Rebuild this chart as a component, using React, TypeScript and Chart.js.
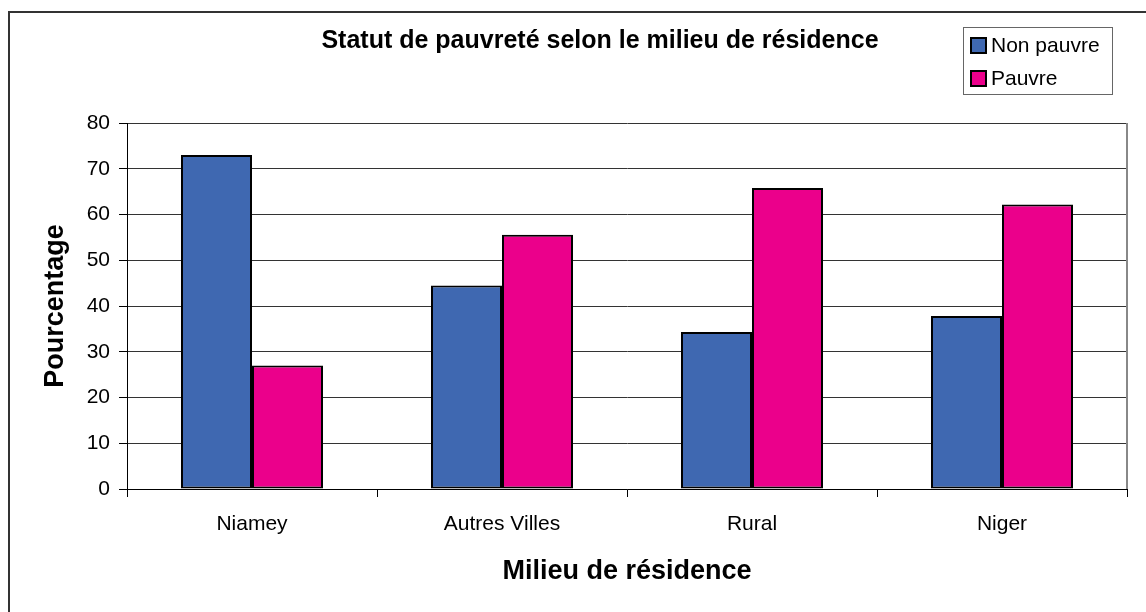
import React, { useEffect, useRef } from 'react';
import { Chart, registerables } from 'chart.js';

Chart.register(...registerables);

const categories = ['Niamey', 'Autres Villes', 'Rural', 'Niger'];
const seriesNames = ['Non pauvre', 'Pauvre'];
const nonPauvre = [73, 44.5, 34.3, 37.8];
const pauvre = [27, 55.6, 65.8, 62.2];
const seriesColors = ['#3F68B1', '#EB008B'];
const yMin = 0;
const yMax = 80;
const yStep = 10;
const chartTitle = 'Statut de pauvreté selon le milieu de résidence';
const xTitle = 'Milieu de résidence';
const yTitle = 'Pourcentage';

const FONT = '"Liberation Sans", Arial, Helvetica, sans-serif';

const decorPlugin = {
  id: 'decor',
  afterDraw(chart: any) {
    const ctx = chart.ctx;
    const area = chart.chartArea;
    ctx.save();
    // outer frame (left + top visible)
    ctx.strokeStyle = '#333333';
    ctx.lineWidth = 2;
    ctx.beginPath();
    ctx.moveTo(9, 612);
    ctx.lineTo(9, 12);
    ctx.lineTo(1146, 12);
    ctx.stroke();

    // right border of plot area
    ctx.strokeStyle = '#888888';
    ctx.lineWidth = 2;
    ctx.beginPath();
    ctx.moveTo(area.right, area.top);
    ctx.lineTo(area.right, area.bottom);
    ctx.stroke();

    // title
    ctx.fillStyle = '#000';
    ctx.font = 'bold 25px ' + FONT;
    ctx.textAlign = 'center';
    ctx.textBaseline = 'middle';
    ctx.fillText(chartTitle, 600, 41);

    // legend
    ctx.strokeStyle = '#666666';
    ctx.lineWidth = 1;
    ctx.strokeRect(963.5, 27.5, 149, 67);
    ctx.font = '21px ' + FONT;
    ctx.textAlign = 'left';
    const rows = [45, 78];
    seriesNames.forEach((name, i) => {
      const cy = rows[i];
      ctx.fillStyle = seriesColors[i];
      ctx.fillRect(971, cy - 7, 15, 15);
      ctx.strokeStyle = '#000';
      ctx.lineWidth = 2;
      ctx.strokeRect(971, cy - 7, 15, 15);
      ctx.fillStyle = '#000';
      ctx.fillText(name, 991, cy + 1);
    });
    ctx.restore();
  },
};

export default function App() {
  const ref = useRef<HTMLCanvasElement | null>(null);
  useEffect(() => {
    if (!ref.current) return;
    Chart.defaults.font.family = FONT;
    const chart = new Chart(ref.current, {
      type: 'bar',
      data: {
        labels: categories,
        datasets: [
          {
            label: seriesNames[0],
            data: nonPauvre,
            backgroundColor: seriesColors[0],
            borderColor: '#000',
            borderWidth: 2,
            borderSkipped: false,
            categoryPercentage: 0.568,
            barPercentage: 1,
          },
          {
            label: seriesNames[1],
            data: pauvre,
            backgroundColor: seriesColors[1],
            borderColor: '#000',
            borderWidth: 2,
            borderSkipped: false,
            categoryPercentage: 0.568,
            barPercentage: 1,
          },
        ],
      },
      options: {
        animation: false,
        responsive: true,
        maintainAspectRatio: false,
        layout: { padding: { left: 0, top: 123, right: 19, bottom: 0 } },
        plugins: {
          legend: { display: false },
          title: { display: false },
          tooltip: { enabled: false },
        },
        scales: {
          x: {
            afterFit: (s: any) => {
              s.height = 123;
            },
            grid: {
              drawOnChartArea: false,
              drawTicks: true,
              tickLength: 8,
              color: '#000',
              offset: true,
            },
            border: { color: '#000', width: 1 },
            ticks: {
              color: '#000',
              font: { size: 21, family: FONT },
              padding: 15,
              maxRotation: 0,
            },
            title: {
              display: true,
              text: xTitle,
              color: '#000',
              font: { size: 27, weight: 'bold', family: FONT },
              padding: { top: 0, bottom: 24 },
            },
          },
          y: {
            min: yMin,
            max: yMax,
            afterFit: (s: any) => {
              s.width = 127;
            },
            grid: {
              color: '#333333',
              tickColor: '#000',
              tickLength: 8,
              lineWidth: 1,
            },
            border: { color: '#000', width: 1 },
            ticks: {
              stepSize: yStep,
              color: '#000',
              font: { size: 21, family: FONT },
              padding: 9,
            },
            title: {
              display: true,
              text: yTitle,
              color: '#000',
              font: { size: 27, weight: 'bold', family: FONT },
              padding: { top: 39, bottom: 0 },
            },
          },
        },
      },
      plugins: [decorPlugin],
    });
    return () => chart.destroy();
  }, []);
  return (
    <div style={{ position: 'fixed', left: 0, top: 0, width: 1146, height: 612, background: '#fff' }}>
      <canvas ref={ref} />
    </div>
  );
}
